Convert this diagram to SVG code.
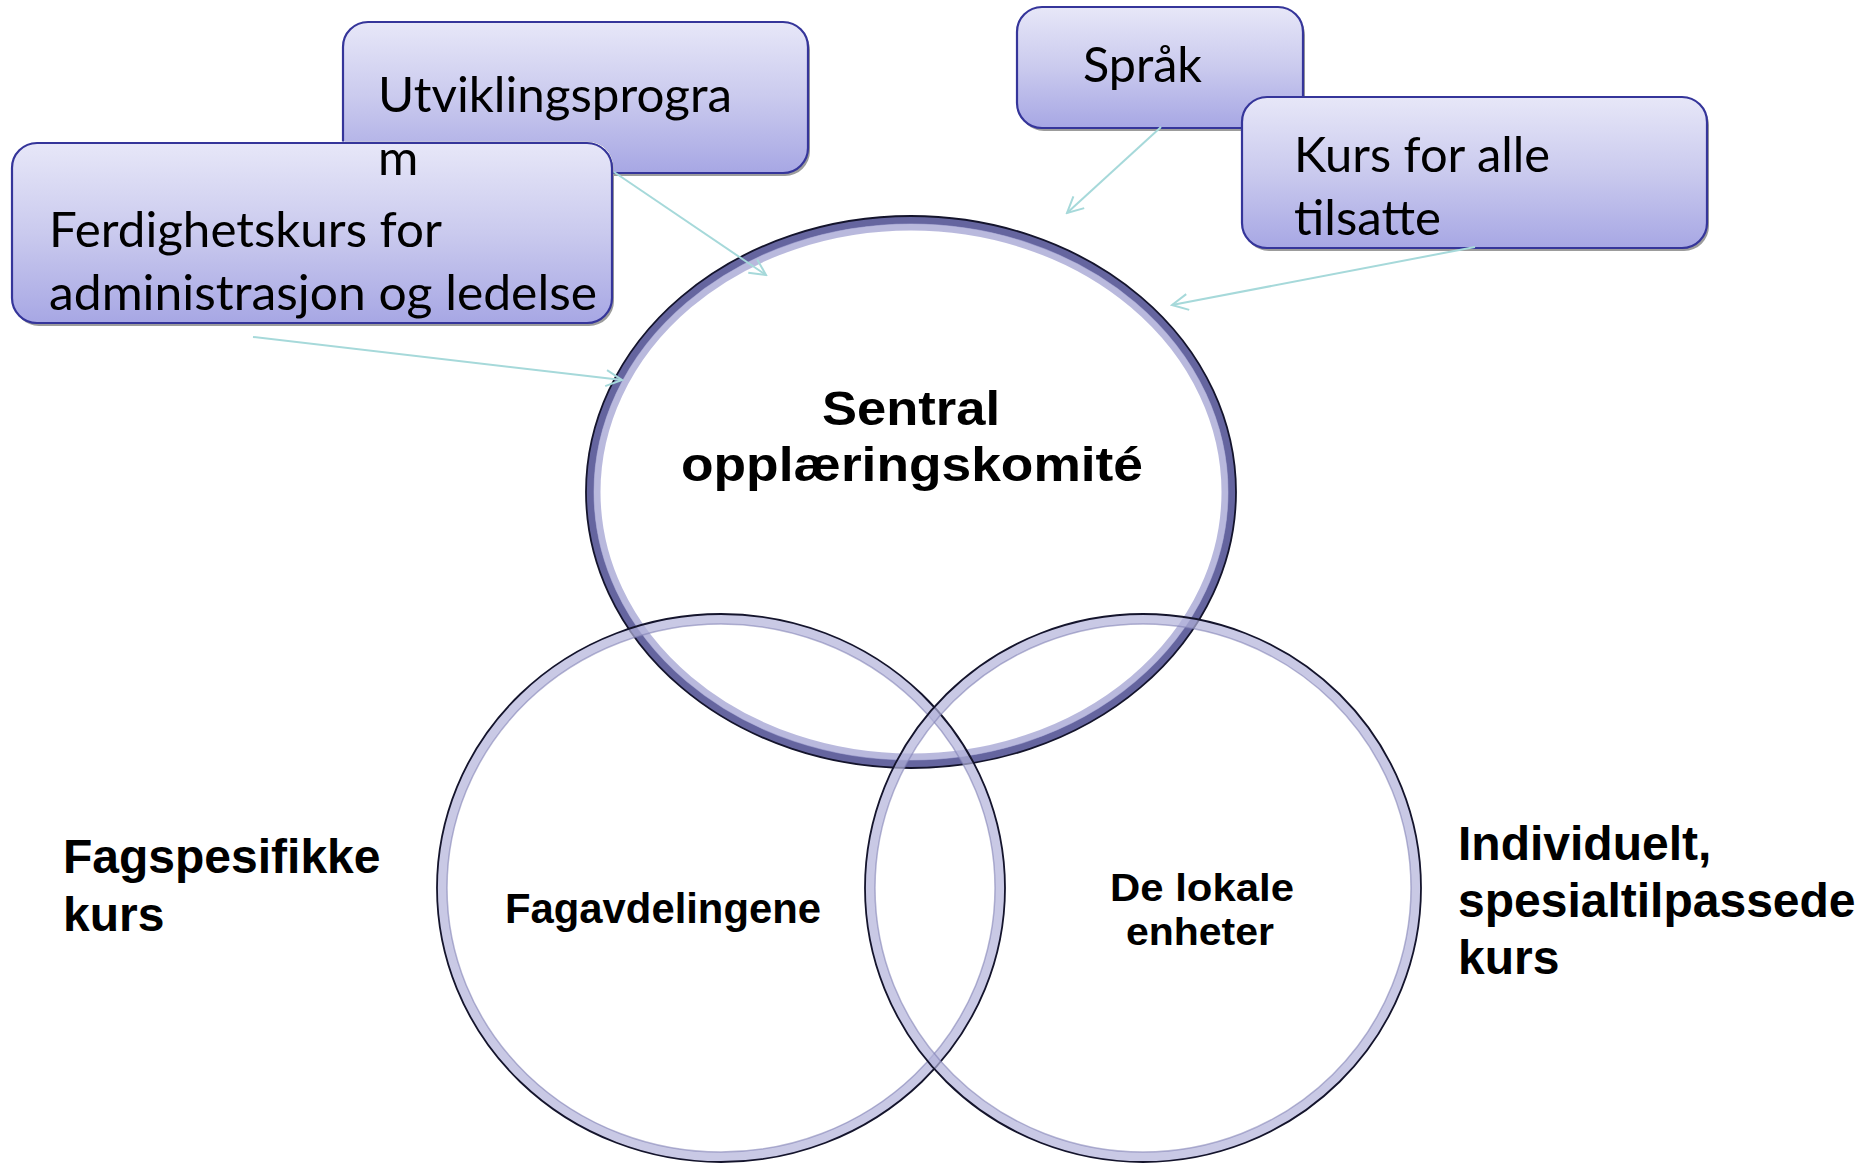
<svg xmlns="http://www.w3.org/2000/svg" width="1876" height="1168" viewBox="0 0 1876 1168">
<style>
.box{fill:url(#boxgrad);stroke:#35359a;stroke-width:2.2}
.shadow{fill:#9c9c9c}
.bt{font-family:Lato,"Open Sans","Noto Sans",sans-serif;font-size:49px;fill:#000}
.lb{font-family:"Liberation Sans",Arial,sans-serif;font-weight:bold;fill:#000}
.arrow{stroke:#a6d9da;stroke-width:2;fill:none;marker-end:url(#ah)}
.topband{fill:none;stroke:#4a4a8e;stroke-width:8;opacity:.85}
.topband2{fill:none;stroke:#a2a2d2;stroke-width:7;opacity:.75}
.edge{fill:none;stroke:#14142c;stroke-width:1.8}
.botband{fill:none;stroke:#b2b2da;stroke-width:10;opacity:.7}
.botinner{fill:none;stroke:#7c7cb0;stroke-width:1.5;opacity:.55}
</style>
<defs>
<linearGradient id="boxgrad" x1="0" y1="0" x2="0" y2="1">
<stop offset="0" stop-color="#e7e7f8"/>
<stop offset="0.5" stop-color="#cacaee"/>
<stop offset="1" stop-color="#a7a7e4"/>
</linearGradient>
<marker id="ah" viewBox="0 0 20 20" refX="18" refY="10" markerWidth="20" markerHeight="20" markerUnits="userSpaceOnUse" orient="auto">
<path d="M2,2 L18,10 L2,18" fill="none" stroke="#a6d9da" stroke-width="2"/>
</marker>
<clipPath id="clipUtv">
<path clip-rule="evenodd" d="M0,0 H1876 V1168 H0 Z M36,141.5 H588 A25.5,25.5 0 0 1 613.5,167 V299 A25.5,25.5 0 0 1 588,324.5 H36 A25.5,25.5 0 0 1 10.5,299 V167 A25.5,25.5 0 0 1 36,141.5 Z"/>
</clipPath>
</defs>
<rect width="1876" height="1168" fill="#fff"/>

<g id="circle-top">
<ellipse cx="911" cy="492" rx="321" ry="272" class="topband"/>
<ellipse cx="911" cy="492" rx="314" ry="265" class="topband2"/>
<ellipse cx="911" cy="492" rx="325" ry="276" class="edge"/>
<text class="lb" font-size="48" x="911" y="425" text-anchor="middle" textLength="178" lengthAdjust="spacingAndGlyphs">Sentral</text>
<text class="lb" font-size="48" x="912" y="481" text-anchor="middle" textLength="462" lengthAdjust="spacingAndGlyphs">opplæringskomité</text>
</g>

<g id="circle-left">
<ellipse cx="721" cy="888" rx="279" ry="269" class="botband"/>
<ellipse cx="721" cy="888" rx="284" ry="274" class="edge"/>
<ellipse cx="721" cy="888" rx="274" ry="264" class="botinner"/>
<text class="lb" font-size="42" x="663" y="923" text-anchor="middle" textLength="316" lengthAdjust="spacingAndGlyphs">Fagavdelingene</text>
</g>

<g id="circle-right">
<ellipse cx="1143" cy="888" rx="273" ry="269" class="botband"/>
<ellipse cx="1143" cy="888" rx="278" ry="274" class="edge"/>
<ellipse cx="1143" cy="888" rx="268" ry="264" class="botinner"/>
<text class="lb" font-size="38" x="1202" y="901" text-anchor="middle" textLength="184" lengthAdjust="spacingAndGlyphs">De lokale</text>
<text class="lb" font-size="38" x="1200" y="945" text-anchor="middle" textLength="148" lengthAdjust="spacingAndGlyphs">enheter</text>
</g>

<g id="label-fagspesifikke">
<text class="lb" font-size="48" x="63" y="873">Fagspesifikke</text>
<text class="lb" font-size="48" x="63" y="931">kurs</text>
</g>

<g id="label-individuelt">
<text class="lb" font-size="48" x="1458" y="860">Individuelt,</text>
<text class="lb" font-size="48" x="1458" y="917">spesialtilpassede</text>
<text class="lb" font-size="48" x="1458" y="974">kurs</text>
</g>

<g id="node-ferdighetskurs">
<rect x="14" y="146" width="600" height="180" rx="25" class="shadow"/>
<rect x="12" y="143" width="600" height="180" rx="25" class="box"/>
<text class="bt" x="49" y="247" textLength="393" lengthAdjust="spacingAndGlyphs">Ferdighetskurs for</text>
<text class="bt" x="49" y="310" textLength="548" lengthAdjust="spacingAndGlyphs">administrasjon og ledelse</text>
</g>

<g id="node-utviklingsprogram">
<g clip-path="url(#clipUtv)">
<rect x="345" y="25" width="465" height="151" rx="25" class="shadow"/>
<rect x="343" y="22" width="465" height="151" rx="25" class="box"/>
</g>
<text class="bt" x="378" y="112" textLength="354" lengthAdjust="spacingAndGlyphs">Utviklingsprogra</text>
<text class="bt" x="378" y="175">m</text>
</g>

<g id="node-sprak">
<rect x="1019" y="10" width="286" height="121" rx="25" class="shadow"/>
<rect x="1017" y="7" width="286" height="121" rx="25" class="box"/>
<text class="bt" x="1083" y="82" textLength="119" lengthAdjust="spacingAndGlyphs">Språk</text>
</g>

<g id="node-kurs-for-alle">
<rect x="1244" y="100" width="465" height="151" rx="25" class="shadow"/>
<rect x="1242" y="97" width="465" height="151" rx="25" class="box"/>
<text class="bt" x="1294" y="172" textLength="256" lengthAdjust="spacingAndGlyphs">Kurs for alle</text>
<text class="bt" x="1294" y="235" textLength="147" lengthAdjust="spacingAndGlyphs">tilsatte</text>
</g>

<g id="connectors">
<line x1="614" y1="172" x2="766" y2="275" class="arrow"/>
<line x1="253" y1="337" x2="622" y2="380" class="arrow"/>
<line x1="1161" y1="127" x2="1067" y2="213" class="arrow"/>
<line x1="1475" y1="247" x2="1172" y2="305" class="arrow"/>
</g>
</svg>
